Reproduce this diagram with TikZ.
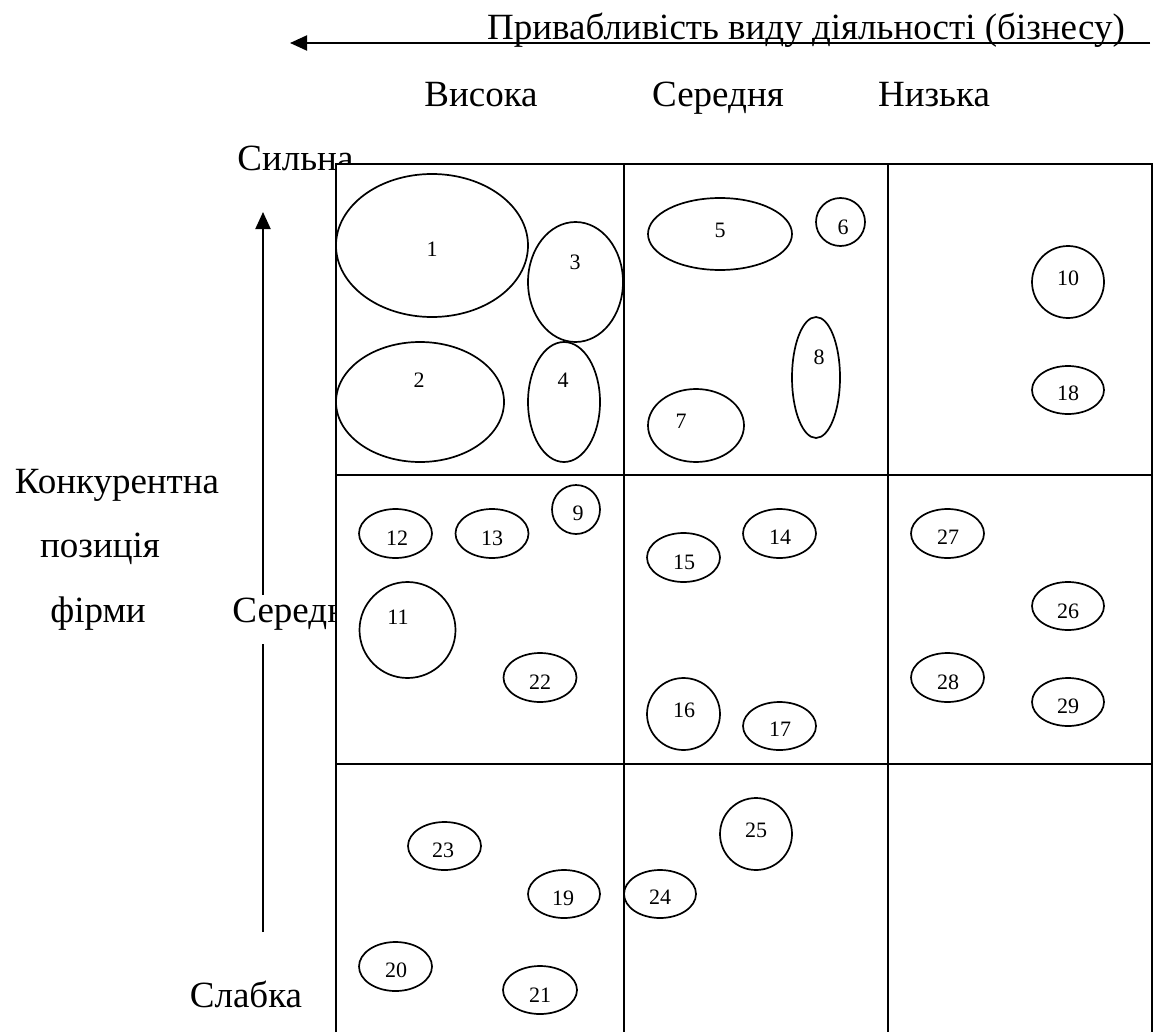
\documentclass[tikz,border=0pt]{standalone}
\usepackage{fontspec}
\setmainfont{Liberation Serif}
\usetikzlibrary{arrows.meta,shapes.geometric}

\begin{document}
\begin{tikzpicture}[x=0.5pt,y=-0.5pt,
    lbl/.style={font=\fontsize{18.5}{22}\selectfont,inner sep=0pt},
    num/.style={font=\fontsize{11}{13}\selectfont,inner sep=0pt},
    blob/.style={ellipse,draw,line width=0.85pt,inner sep=0pt,outer sep=0pt},
    grid/.style={line width=1pt}]
  \useasboundingbox (0,0) rectangle (1160,1032);

  % axis of attractiveness
  \coordinate (hR) at (1150,43);
  \coordinate (hL) at (290,43);
  \draw[-{Triangle[length=8.5pt,width=7.5pt]},line width=1pt] (hR)--(hL);
  \node[lbl,anchor=base] (title) at (806,40) {Привабливість виду діяльності (бізнесу)};
  \node[lbl,anchor=base] (high) at (481,107) {Висока};
  \node[lbl,anchor=base] (medium) at (718,107) {Середня};
  \node[lbl,anchor=base] (low) at (934,107) {Низька};

  % axis of competitive position
  \node[lbl,anchor=base] (pos1) at (117,493) {Конкурентна};
  \node[lbl,anchor=base] (pos2) at (100,557) {позиція};
  \node[lbl,anchor=base] (pos3) at (98,622) {фірми};
  \node[lbl,anchor=base west] (strong) at (237,170) {Сильна};
  \node[lbl,anchor=base] (weak) at (246,1007) {Слабка};
  \coordinate (vB) at (263,932);
  \coordinate (vT) at (263,212);
  \draw[-{Triangle[length=8.5pt,width=7.5pt]},line width=1pt] (vB)--(vT);
  \node[lbl,anchor=base west,fill=white,text height=13.5pt,text depth=11pt]
    (mid) at (232,622) {Середня};

  % the 3x3 matrix
  \fill[white] (336,164) rectangle (1152,1032);
  \draw[grid] (336,1032)--(336,164)--(1152,164)--(1152,1032);
  \draw[grid] (624,164)--(624,1032);
  \draw[grid] (888,164)--(888,1032);
  \draw[grid] (336,475)--(1152,475);
  \draw[grid] (336,764)--(1152,764);

  % businesses
  \node[blob,minimum width=96pt,minimum height=71.5pt] (b1) at (432,245.5) {};
  \node[num] (n1) at (432,249) {1};
  \node[blob,minimum width=84pt,minimum height=60pt] (b2) at (420,402) {};
  \node[num] (n2) at (419,380) {2};
  \node[blob,minimum width=47.5pt,minimum height=60pt] (b3) at (575.5,282) {};
  \node[num] (n3) at (575,262) {3};
  \node[blob,minimum width=36pt,minimum height=60pt] (b4) at (564,402) {};
  \node[num] (n4) at (563,380) {4};
  \node[blob,minimum width=72pt,minimum height=36pt] (b5) at (720,234) {};
  \node[num] (n5) at (720,230) {5};
  \node[blob,minimum width=24.5pt,minimum height=24pt] (b6) at (840.5,222) {};
  \node[num] (n6) at (843,227) {6};
  \node[blob,minimum width=48pt,minimum height=36.5pt] (b7) at (696,425.5) {};
  \node[num] (n7) at (681,421) {7};
  \node[blob,minimum width=24pt,minimum height=60.5pt] (b8) at (816,377.5) {};
  \node[num] (n8) at (819,357) {8};
  \node[blob,minimum width=24pt,minimum height=24.5pt] (b9) at (576,509.5) {};
  \node[num] (n9) at (578,513) {9};
  \node[blob,minimum width=36pt,minimum height=36pt] (b10) at (1068,282) {};
  \node[num] (n10) at (1068,278) {10};
  \node[blob,minimum width=48pt,minimum height=48pt] (b11) at (407.5,630) {};
  \node[num] (n11) at (398,617) {11};
  \node[blob,minimum width=36.5pt,minimum height=24.5pt] (b12) at (395.5,533.5) {};
  \node[num] (n12) at (397,538) {12};
  \node[blob,minimum width=36.5pt,minimum height=24.5pt] (b13) at (492,533.5) {};
  \node[num] (n13) at (492,538) {13};
  \node[blob,minimum width=36.5pt,minimum height=24.5pt] (b14) at (779.5,533.5) {};
  \node[num] (n14) at (780,537) {14};
  \node[blob,minimum width=36.5pt,minimum height=24.5pt] (b15) at (683.5,557.5) {};
  \node[num] (n15) at (684,562) {15};
  \node[blob,minimum width=36.5pt,minimum height=36pt] (b16) at (683.5,714) {};
  \node[num] (n16) at (684,710) {16};
  \node[blob,minimum width=36.5pt,minimum height=24pt] (b17) at (779.5,726) {};
  \node[num] (n17) at (780,729) {17};
  \node[blob,minimum width=36pt,minimum height=24pt] (b18) at (1068,390) {};
  \node[num] (n18) at (1068,393) {18};
  \node[blob,minimum width=36pt,minimum height=24pt] (b19) at (564,894) {};
  \node[num] (n19) at (563,898) {19};
  \node[blob,minimum width=36.5pt,minimum height=24.5pt] (b20) at (395.5,966.5) {};
  \node[num] (n20) at (396,970) {20};
  \node[blob,minimum width=37pt,minimum height=24pt] (b21) at (540,990) {};
  \node[num] (n21) at (540,995) {21};
  \node[blob,minimum width=36.5pt,minimum height=24.5pt] (b22) at (540,677.5) {};
  \node[num] (n22) at (540,682) {22};
  \node[blob,minimum width=36.5pt,minimum height=24pt] (b23) at (444.5,846) {};
  \node[num] (n23) at (443,850) {23};
  \node[blob,minimum width=36pt,minimum height=24pt] (b24) at (660,894) {};
  \node[num] (n24) at (660,897) {24};
  \node[blob,minimum width=36pt,minimum height=36pt] (b25) at (756,834) {};
  \node[num] (n25) at (756,830) {25};
  \node[blob,minimum width=36pt,minimum height=24pt] (b26) at (1068,606) {};
  \node[num] (n26) at (1068,611) {26};
  \node[blob,minimum width=36.5pt,minimum height=24.5pt] (b27) at (947.5,533.5) {};
  \node[num] (n27) at (948,537) {27};
  \node[blob,minimum width=36.5pt,minimum height=24.5pt] (b28) at (947.5,677.5) {};
  \node[num] (n28) at (948,682) {28};
  \node[blob,minimum width=36pt,minimum height=24pt] (b29) at (1068,702) {};
  \node[num] (n29) at (1068,706) {29};
\end{tikzpicture}
\end{document}
